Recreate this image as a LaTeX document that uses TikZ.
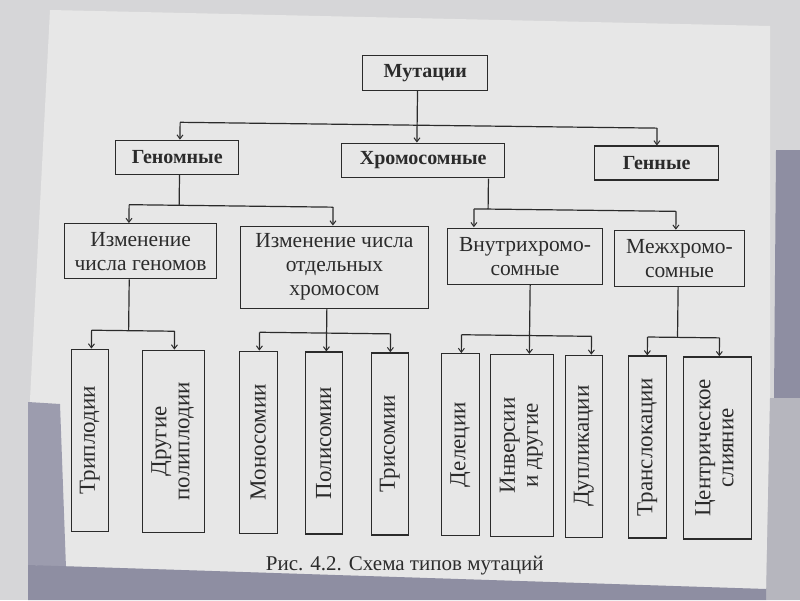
\documentclass[tikz,border=0pt]{standalone}
\usepackage{fontspec}
\setmainfont{Liberation Serif}
\usepackage{graphicx}
\usetikzlibrary{arrows.meta}
\definecolor{ink}{HTML}{2B2B2B}
\definecolor{outside}{HTML}{D6D6D8}
\definecolor{paper}{HTML}{E7E7E7}
\definecolor{slate}{HTML}{8E8EA2}
\definecolor{slatelight}{HTML}{9C9CAE}
\definecolor{greyside}{HTML}{B6B6BE}
\begin{document}
\begin{tikzpicture}[x=1pt,y=-1pt,
  box/.style={draw=ink, line width=1.3pt, inner sep=0pt, align=center, text=ink},
  lvlzero/.style={box, font=\fontsize{20}{22}\selectfont\bfseries},
  lvlone/.style={box, font=\fontsize{20}{22}\selectfont\bfseries, minimum height=34pt},
  lvltwo/.style={box, font=\fontsize{21.5}{24}\selectfont},
  leaf/.style={box, font=\fontsize{23}{23}\selectfont, minimum height=182pt},
  conn/.style={draw=ink, line width=1.2pt},
  arr/.style={conn, -{Straight Barb[length=4pt,width=6pt,line width=1pt]}},
  caption/.style={text=ink, font=\fontsize{21}{24}\selectfont}
]
\useasboundingbox (0,0) rectangle (800,600);
% background
\fill[outside] (0,0) rectangle (800,600);
\fill[paper] (50,10) -- (770,26) -- (770,400) -- (766,589) -- (28,565) -- (30,400) -- cycle;
\fill[slate] (776,150) -- (800,150) -- (800,398) -- (774,398) -- cycle;
\fill[greyside] (770,398) -- (800,398) -- (800,600) -- (766,600) -- cycle;
\fill[slatelight] (28,402) -- (60,404) -- (66,568) -- (28,565) -- cycle;
\fill[slate] (28,565) -- (766,589) -- (766,600) -- (28,600) -- cycle;

\begin{scope}[rotate around={-0.7:(400,300)}]
% level 0 and 1
\node[lvlzero, minimum width=125pt, minimum height=35pt] (mut) at (422.5,72.5) {Мутации};
\node[lvlone, minimum width=123pt] (gen) at (175.5,160) {Геномные};
\node[lvlone, minimum width=163pt] (chr) at (421.5,160) {Хромосомные};
\node[lvlone, minimum width=124pt] (gny) at (655,160) {Генные};
% level 2
\node[lvltwo, minimum width=152pt, minimum height=55pt] (izg) at (140,254.5) {Изменение\\числа геномов};
\node[lvltwo, minimum width=188pt, minimum height=82pt] (izo) at (334,268) {Изменение числа\\отдельных\\хромосом};
\node[lvltwo, minimum width=155pt, minimum height=56pt] (vnu) at (524.5,255) {Внутрихромо-\\сомные};
\node[lvltwo, minimum width=130pt, minimum height=56pt] (mez) at (679,255) {Межхромо-\\сомные};
% leaves
\node[leaf, minimum width=37pt] (trip) at (91.5,444) {\rotatebox{90}{Триплодии}};
\node[leaf, minimum width=62pt] (drug) at (175,444) {\rotatebox{90}{\begin{tabular}{@{}c@{}}Другие\\полиплодии\end{tabular}}};
\node[leaf, minimum width=38pt] (mono) at (260,444) {\rotatebox{90}{Моносомии}};
\node[leaf, minimum width=37pt] (poli) at (325.5,444) {\rotatebox{90}{Полисомии}};
\node[leaf, minimum width=37pt] (tris) at (391.5,444) {\rotatebox{90}{Трисомии}};
\node[leaf, minimum width=38pt] (dele) at (462,444) {\rotatebox{90}{Делеции}};
\node[leaf, minimum width=63pt] (inve) at (523.5,444) {\rotatebox{90}{\begin{tabular}{@{}c@{}}Инверсии\\и другие\end{tabular}}};
\node[leaf, minimum width=37pt] (dupl) at (585.5,444) {\rotatebox{90}{Дупликации}};
\node[leaf, minimum width=38pt] (tran) at (649,444) {\rotatebox{90}{Транслокации}};
\node[leaf, minimum width=68pt] (cent) at (719,444) {\rotatebox{90}{\begin{tabular}{@{}c@{}}Центрическое\\слияние\end{tabular}}};
% caption
\node[caption] (cap) at (408,565) {Рис. 4.2. Схема типов мутаций};

% level 0 -> 1
\coordinate (m1) at (415,125);
\coordinate (b1l) at (178,125);
\coordinate (b1r) at (655,125);
\draw[arr] (mut.south -| m1) -- (chr.north -| m1);
\draw[conn] (b1l) -- (b1r);
\draw[arr] (b1l) -- (b1l |- gen.north);
\draw[arr] (b1r) -- (b1r |- gny.north);
% level 1 -> 2
\coordinate (g2) at (178,208);
\coordinate (b2a) at (128,208);
\coordinate (b2b) at (332,208);
\draw[conn] (gen.south -| g2) -- (g2);
\draw[conn] (b2a) -- (b2b);
\draw[arr] (b2a) -- (b2a |- izg.north);
\draw[arr] (b2b) -- (b2b |- izo.north);
\coordinate (c2) at (487,208);
\coordinate (b2c) at (473,208);
\coordinate (b2d) at (675,208);
\draw[conn] (chr.south -| c2) -- (c2);
\draw[conn] (b2c) -- (b2d);
\draw[arr] (b2c) -- (b2c |- vnu.north);
\draw[arr] (b2d) -- (b2d |- mez.north);
% level 2 -> 3
\coordinate (pa) at (129,334);
\coordinate (a1) at (92,334);
\coordinate (a2) at (175,334);
\draw[conn] (izg.south -| pa) -- (pa);
\draw[conn] (a1) -- (a2);
\draw[arr] (a1) -- (a1 |- trip.north);
\draw[arr] (a2) -- (a2 |- drug.north);
\coordinate (pb) at (327,334);
\coordinate (bb1) at (260,334);
\coordinate (bb3) at (391,334);
\draw[conn] (izo.south -| pb) -- (pb);
\draw[conn] (bb1) -- (bb3);
\draw[arr] (bb1) -- (bb1 |- mono.north);
\draw[arr] (pb) -- (pb |- poli.north);
\draw[arr] (bb3) -- (bb3 |- tris.north);
\coordinate (pc) at (530,334);
\coordinate (cc1) at (462,334);
\coordinate (cc3) at (592,334);
\draw[conn] (vnu.south -| pc) -- (pc);
\draw[conn] (cc1) -- (cc3);
\draw[arr] (cc1) -- (cc1 |- dele.north);
\draw[arr] (pc) -- (pc |- inve.north);
\draw[arr] (cc3) -- (cc3 |- dupl.north);
\coordinate (pd) at (678,334);
\coordinate (dd1) at (648,334);
\coordinate (dd2) at (720,334);
\draw[conn] (mez.south -| pd) -- (pd);
\draw[conn] (dd1) -- (dd2);
\draw[arr] (dd1) -- (dd1 |- tran.north);
\draw[arr] (dd2) -- (dd2 |- cent.north);
\end{scope}
\end{tikzpicture}
\end{document}
